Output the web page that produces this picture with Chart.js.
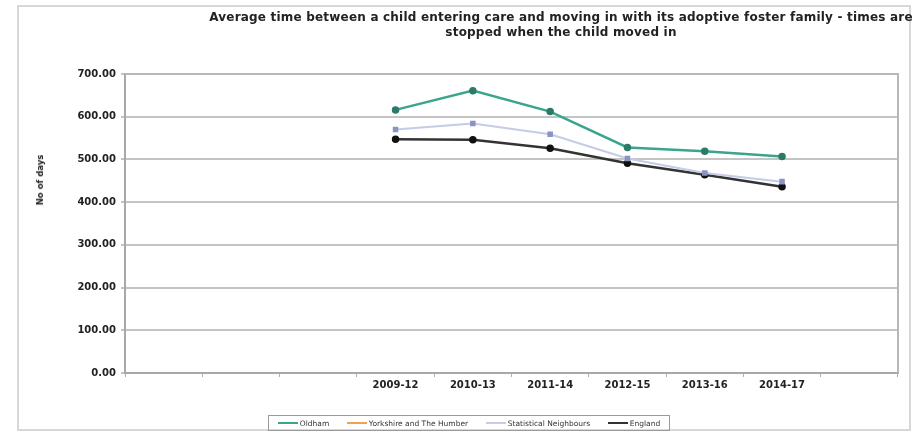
<!DOCTYPE html>
<html>
<head>
<meta charset="utf-8">
<script src="https://cdn.jsdelivr.net/npm/chart.js@4/dist/chart.umd.min.js"></script>
<style>
  html, body { margin: 0; padding: 0; background: #fff; }
  #wrap { position: relative; width: 922px; height: 436px; overflow: hidden; font-family: "DejaVu Sans", Verdana, sans-serif; }
  #frame { position: absolute; left: 17px; top: 5px; width: 894px; height: 426px; border: 2px solid #d8d8d8; box-sizing: border-box; }
  #title { position: absolute; left: 161px; width: 800px; top: 10px; text-align: center; font-weight: bold; font-size: 12px; letter-spacing: 0.2px; line-height: 15px; color: #222; white-space: nowrap; }
  #ytitle { position: absolute; left: 40px; top: 180px; transform: translate(-50%, -50%) rotate(-90deg); font-weight: bold; font-size: 8.5px; color: #222; white-space: nowrap; }
  #legend { position: absolute; left: 268px; top: 415px; width: 402px; height: 16px; border: 1px solid #9a9a9a; box-sizing: border-box; display: flex; align-items: center; justify-content: space-around; font-size: 7.5px; color: #333; }
  .item { display: flex; align-items: center; }
  .swatch { display: inline-block; width: 20px; height: 2px; margin-right: 2px; }
  canvas { position: absolute; left: 0; top: 0; }
</style>
</head>
<body>
<div id="wrap">
  <div id="frame"></div>
  <canvas id="chart" width="922" height="436"></canvas>
  <div id="title">Average time between a child entering care and moving in with its adoptive foster family - times are<br>stopped when the child moved in</div>
  <div id="ytitle">No of days</div>
  <div id="legend"></div>
</div>
<script>
// categories (Excel left three empty slots before the first period and one after)
const categories = ['', '', '', '2009-12', '2010-13', '2011-14', '2012-15', '2013-16', '2014-17', ''];

const oldham = [null, null, null, 616, 661, 612, 528, 519, 507, null];
const yorkshire = [null, null, null, null, null, null, null, null, null, null];
const statNeighbours = [null, null, null, 570, 584, 559, 502, 468, 448, null];
const england = [null, null, null, 547, 546, 526, 491, 464, 436, null];

const yTicks = [0, 100, 200, 300, 400, 500, 600, 700];

const series = [
    { label: 'Oldham', data: oldham, line: '#3aa58c', point: '#2c7a68', style: 'circle', width: 2.5 },
    { label: 'Yorkshire and The Humber', data: yorkshire, line: '#f5a04a', point: '#f5a04a', style: 'circle', width: 2 },
    { label: 'Statistical Neighbours', data: statNeighbours, line: '#c4cce6', point: '#8a94c4', style: 'rect', width: 2 },
    { label: 'England', data: england, line: '#333333', point: '#111111', style: 'circle', width: 2.5 }
];

// plot area border like Excel
const plotBorder = {
    id: 'plotBorder',
    beforeDatasetsDraw(chart) {
        const { ctx, chartArea: a } = chart;
        ctx.save();
        ctx.strokeStyle = '#b8b8b8';
        ctx.lineWidth = 2;
        ctx.beginPath();
        ctx.moveTo(a.left, a.top);
        ctx.lineTo(a.right, a.top);
        ctx.lineTo(a.right, a.bottom);
        ctx.stroke();
        ctx.restore();
    }
};

const fontFamily = '"DejaVu Sans", Verdana, sans-serif';

new Chart(document.getElementById('chart'), {
    type: 'line',
    data: {
        labels: categories,
        datasets: series.map(s => ({
            label: s.label,
            data: s.data,
            borderColor: s.line,
            backgroundColor: s.point,
            pointBackgroundColor: s.point,
            pointBorderColor: s.point,
            pointStyle: s.style,
            pointRadius: 2.5,
            borderWidth: s.width,
            tension: 0,
            spanGaps: false
        }))
    },
    options: {
        responsive: false,
        animation: false,
        layout: { padding: { left: 0, right: 24, top: 74, bottom: 33 } },
        plugins: {
            legend: { display: false },
            title: { display: false },
            tooltip: { enabled: false }
        },
        scales: {
            x: {
                offset: true,
                grid: {
                    offset: true,
                    drawOnChartArea: false,
                    drawTicks: true,
                    tickLength: 4,
                    color: '#b0b0b0'
                },
                border: { color: '#a8a8a8', width: 2 },
                ticks: {
                    autoSkip: false,
                    maxRotation: 0,
                    padding: 2,
                    color: '#222',
                    font: { family: fontFamily, size: 10, weight: 'bold' }
                },
                afterFit(scale) { scale.height = 30; }
            },
            y: {
                min: 0,
                max: 700,
                afterBuildTicks(scale) { scale.ticks = yTicks.map(v => ({ value: v })); },
                grid: { color: '#c4c4c4', lineWidth: 2, tickLength: 4, drawTicks: true },
                border: { color: '#a8a8a8', width: 2 },
                ticks: {
                    padding: 5,
                    color: '#222',
                    font: { family: fontFamily, size: 10, weight: 'bold' },
                    callback: v => v.toFixed(2)
                },
                afterFit(scale) { scale.width = 125; }
            }
        }
    },
    plugins: [plotBorder]
});

// legend drawn from the series list
const legend = document.getElementById('legend');
series.forEach(s => {
    const item = document.createElement('span');
    item.className = 'item';
    const sw = document.createElement('span');
    sw.className = 'swatch';
    sw.style.background = s.line;
    item.appendChild(sw);
    item.appendChild(document.createTextNode(s.label));
    legend.appendChild(item);
});
</script>
</body>
</html>
